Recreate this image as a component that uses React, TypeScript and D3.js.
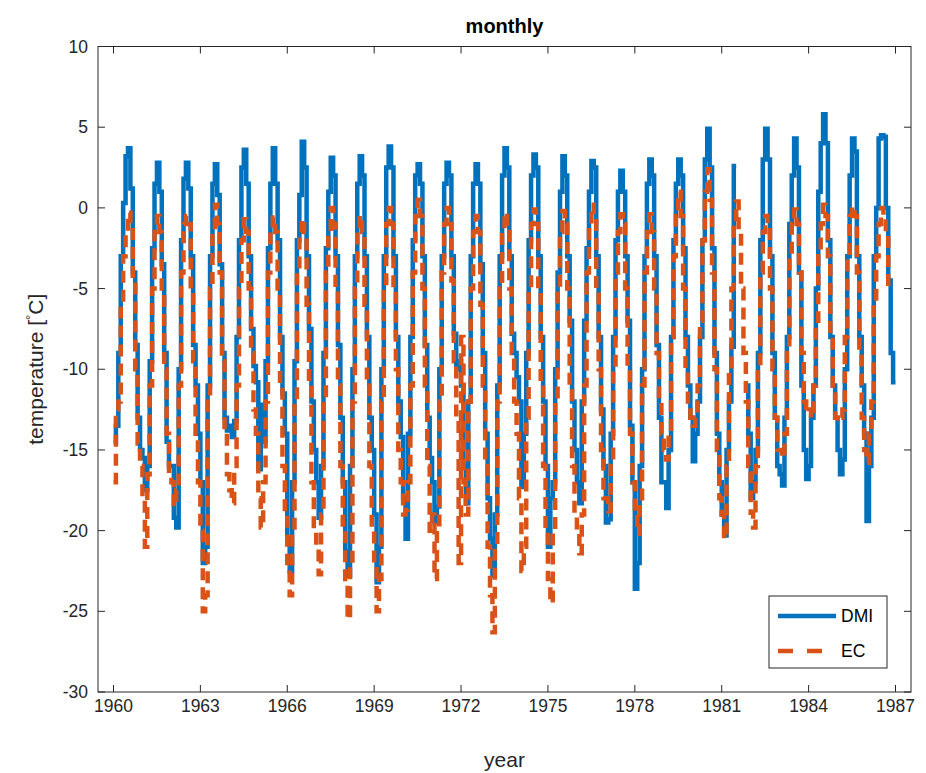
import { useRef, useEffect } from "react";
import * as d3 from "d3";

// one row of 12 monthly means per year, null = missing
const years = [
  1960, 1961, 1962, 1963, 1964, 1965, 1966, 1967, 1968, 1969, 1970, 1971, 1972, 1973,
  1974, 1975, 1976, 1977, 1978, 1979, 1980, 1981, 1982, 1983, 1984, 1985, 1986,
];

const dmi = [
  [-14.5, -13.5, -9, -3, 0.3, 3.2, 3.7, 1.2, -4, -8.5, -13, -15],
  [-15.5, -17.5, -16, -9.5, -2.5, 1.5, 2.8, 1.0, -3.5, -9, -14.5, -16],
  [-16, -19.2, -19.8, -10, -2, 1.8, 2.8, 1.2, -3, -8.5, -11, -14],
  [-17, -22, -21, -11, -3, 1.5, 2.7, 0.8, -3.5, -9, -13, -13.8],
  [-13.5, -14.2, -13.2, -8, -2, 2.5, 3.6, 1.5, -3, -7.5, -9.8, -10.8],
  [-16.2, -12.2, -14.5, -9.5, -2.5, 1.5, 3.7, 1.5, -2, -8, -11.5, -14],
  [-20.5, -22.5, -17, -9.5, -2, 0.8, 4.1, 2.5, -3, -7.5, -12, -15],
  [-17, -19.2, -16, -9, -2.5, 1, 3.1, 2.0, -3, -8.5, -13, -17],
  [-21.3, -22.8, -16, -10, -3, 1.5, 3.2, 2.0, -3, -8, -13, -15],
  [-19, -23.2, -21, -10, -3, 2.5, 3.8, 2.5, -3, -8, -12, -14.2],
  [-18, -20.5, -14, -8, -2, 2.0, 2.7, 1.5, -3, -8.5, -13, -15.5],
  [-17, -19.5, -18.5, -10, -3, 1.5, 2.8, 2.0, -3, -7.8, -10, -9.5],
  [-11, -16, -18.3, -12, -3, 1.5, 2.7, 1.5, -3.5, -9, -14, -18],
  [-20.5, -22.8, -19, -11, -3, 2, 3.7, 2.5, -3, -7.8, -9, -10.5],
  [-12, -17.3, -14, -9, -2, 2, 3.3, 2.5, -3, -8, -12, -16],
  [-21, -18, -17, -10, -4, 1.0, 3.2, 2.0, -3, -7, -12, -15],
  [-17, -18.3, -12, -7, -2.5, 1, 2.9, 2.5, -3, -8, -12.5, -16],
  [-19.5, -19.3, -14, -8, -2, 1.0, 2.3, 1.0, -3, -7, -13.5, -17],
  [-23.6, -22, -16, -10, -3, 1.5, 3.0, 2, -3, -8.5, -13, -17],
  [-17, -18.6, -15, -8, -2, 1.5, 3.0, 2.0, -2.5, -8, -11, -13],
  [-15.7, -14, -12, -8, -2, 3, 4.9, 2.5, -2.5, -9, -14, -17],
  [-19, -20.3, -15, -12, -8.6, 2.6, null, null, null, null, -11, -14],
  [-18, -17, -15, -9, -2, 3, 4.9, 3, -3, -9, -13, -16],
  [-16.5, -17.2, -13, -8, -1, 2, 4.3, 2.5, -4, -11, -15, -16.8],
  [-16, -13, -11, -5, 1, 4, 5.8, 4, -2, -8, -11, -13],
  [-15, -16.5, -15.6, -10, -3, 2, 4.3, 3.5, -3, -8, -11, -14],
  [-19.4, -16, -13, -3, 0, 4.3, 4.5, 4.4, 0, -4.5, -9, -10.8],
];

const ec = [
  [-17, -12.5, -12, -6, -3, -1.5, -0.3, -1, -4.5, -10, -14.6, -16],
  [-18, -21, -16.5, -11, -5, -1.5, -0.5, -1.5, -5, -10, -14, -16.5],
  [-17, -18.5, -17.5, -11, -4, -1, -0.5, -1, -5, -9.5, -14, -17],
  [-20, -25, -24, -12, -5, -1.5, 0.2, -1, -4, -9.5, -14, -16.5],
  [-17.5, -18.3, -16, -11, -5, -2, -0.7, -1.5, -5, -9, -12.5, -14],
  [-18, -19.8, -17, -12, -4, -1.5, -0.6, -1.5, -5, -11, -16, -19],
  [-22, -24, -20, -12, -4, -1.5, -0.7, -1.5, -6, -11, -17, -20],
  [-21, -22.7, -19, -12, -4, -1.5, 0, -1, -5, -11, -16, -20],
  [-23, -25.5, -22, -12, -5, -1.5, -0.5, -1.5, -6, -11, -16, -20],
  [-22, -25, -23, -12, -5, -1, 0, -1, -5, -10, -15, -17],
  [-19, -18.7, -17, -11, -4, -0.5, 0.5, -0.5, -5, -11, -16, -20],
  [-19, -23, -20, -12, -4, -1, 0, -1, -4.5, -9.5, -13, -22],
  [-8, -17, -19, -12, -5, -1.5, -0.5, -1.5, -6, -11, -16, -21],
  [-24, -26.3, -21, -12, -5, -1.5, -0.3, -1.5, -5, -9, -12, -14],
  [-18, -22.5, -21, -13, -5, -1, -0.1, -1, -5, -11, -16, -20],
  [-23, -24.5, -20, -12, -5, -1.5, -0.2, -1, -5, -11, -16, -19],
  [-20, -21.4, -19, -11, -4, -1, 0.2, -0.5, -5, -10, -15, -18],
  [-18, -18.8, -16, -10, -4, -1.5, -0.4, -1, -5, -10, -14, -17],
  [-19, -20.2, -18, -11, -4, -1.5, -0.4, -1.5, -5, -9, -12, -14],
  [-15, -15.6, -14, -8, -3, -0.5, 1.0, -0.5, -5, -10, -12, -13],
  [-13.5, -13, -11, -7, -2, 1, 2.4, 0.5, -4, -10, -15, -18],
  [-19, -20.5, -16, -10, -5, -1, 0.4, -1.4, -5, -9, -12, -16],
  [-18.9, -19.8, -16, -10, -4, -1.5, -0.5, -1, -5, -10, -13, -15],
  [-15, -15.5, -14, -9, -3, -1, -0.1, -1, -4, -9, -12, -12.7],
  [-12.5, -13, -11, -7, -3, -1, 0.2, -0.5, -3, -8, -11, -13],
  [-13.2, -13, -12.5, -8, -3, -0.5, 0.1, -0.5, -4, -9, -13, -15],
  [-15.8, -14, -12, -6, -3, -1, 0, -0.5, -1.5, -5, null, null],
];

const xTicks = [1960, 1963, 1966, 1969, 1972, 1975, 1978, 1981, 1984, 1987];
const yTicks = [-30, -25, -20, -15, -10, -5, 0, 5, 10];

type Pt = { t: number; v: number | null };

// each month drawn as a flat step from its start to its end
function toSteps(rows: (number | null)[][]): Pt[] {
  const pts: Pt[] = [];
  years.forEach((yr, i) => {
    rows[i].forEach((v, m) => {
      pts.push({ t: yr + m / 12, v });
      pts.push({ t: yr + (m + 1) / 12, v });
    });
  });
  return pts;
}

export default function App() {
  const gRef = useRef<SVGGElement>(null);

  const W = 926;
  const H = 773;
  const left = 98;
  const right = 911;
  const top = 46.5;
  const bottom = 692;

  useEffect(() => {
    const g = d3.select(gRef.current);
    g.selectAll("*").remove();

    const x = d3.scaleLinear().domain([1959.465, 1987.535]).range([left, right]);
    const y = d3.scaleLinear().domain([-30, 10]).range([bottom, top]);

    const line = d3
      .line<Pt>()
      .defined((d) => d.v !== null)
      .x((d) => x(d.t))
      .y((d) => y(d.v as number));

    g.append("path")
      .attr("d", line(toSteps(dmi)))
      .attr("fill", "none")
      .attr("stroke", "#0072BD")
      .attr("stroke-width", 4.5);

    g.append("path")
      .attr("d", line(toSteps(ec)))
      .attr("fill", "none")
      .attr("stroke", "#D95319")
      .attr("stroke-width", 4.5)
      .attr("stroke-dasharray", "12,7");

    // box and ticks, matlab style (inward ticks on all four sides)
    const axisColor = "#262626";
    g.append("rect")
      .attr("x", left)
      .attr("y", top)
      .attr("width", right - left)
      .attr("height", bottom - top)
      .attr("fill", "none")
      .attr("stroke", axisColor)
      .attr("stroke-width", 1);

    const tl = 7;
    xTicks.forEach((t) => {
      g.append("line").attr("x1", x(t)).attr("x2", x(t)).attr("y1", bottom).attr("y2", bottom - tl).attr("stroke", axisColor);
      g.append("line").attr("x1", x(t)).attr("x2", x(t)).attr("y1", top).attr("y2", top + tl).attr("stroke", axisColor);
      g.append("text")
        .attr("x", x(t))
        .attr("y", bottom + 20)
        .attr("text-anchor", "middle")
        .attr("font-size", 17.5)
        .attr("fill", axisColor)
        .text(t);
    });
    yTicks.forEach((t) => {
      g.append("line").attr("x1", left).attr("x2", left + tl).attr("y1", y(t)).attr("y2", y(t)).attr("stroke", axisColor);
      g.append("line").attr("x1", right).attr("x2", right - tl).attr("y1", y(t)).attr("y2", y(t)).attr("stroke", axisColor);
      g.append("text")
        .attr("x", left - 10)
        .attr("y", y(t) + 6)
        .attr("text-anchor", "end")
        .attr("font-size", 17.5)
        .attr("fill", axisColor)
        .text(t);
    });

    // legend
    const lg = g.append("g");
    lg.append("rect")
      .attr("x", 769)
      .attr("y", 596)
      .attr("width", 118)
      .attr("height", 72)
      .attr("fill", "white")
      .attr("stroke", axisColor);
    lg.append("line").attr("x1", 778).attr("x2", 836).attr("y1", 616).attr("y2", 616)
      .attr("stroke", "#0072BD").attr("stroke-width", 4.5);
    lg.append("line").attr("x1", 778).attr("x2", 836).attr("y1", 651).attr("y2", 651)
      .attr("stroke", "#D95319").attr("stroke-width", 4.5).attr("stroke-dasharray", "15,14");
    lg.append("text").attr("x", 841).attr("y", 622).attr("font-size", 17.5).attr("fill", "black").text("DMI");
    lg.append("text").attr("x", 841).attr("y", 657).attr("font-size", 17.5).attr("fill", "black").text("EC");
  }, []);

  return (
    <svg
      width={W}
      height={H}
      style={{ position: "absolute", left: 0, top: 0, background: "white" }}
      fontFamily="'Liberation Sans', Arial, sans-serif"
    >
      <text x={(left + right) / 2} y={33} textAnchor="middle" fontSize={20} fontWeight="bold" fill="black">
        monthly
      </text>
      <text x={(left + right) / 2} y={767} textAnchor="middle" fontSize={21} fill="#262626">
        year
      </text>
      <text
        transform={`translate(43, ${(top + bottom) / 2}) rotate(-90)`}
        textAnchor="middle"
        fontSize={21}
        fill="#262626"
      >
        temperature [<tspan fontSize={13} dy={-8}>°</tspan>
        <tspan dy={8}>C]</tspan>
      </text>
      <g ref={gRef} />
    </svg>
  );
}
